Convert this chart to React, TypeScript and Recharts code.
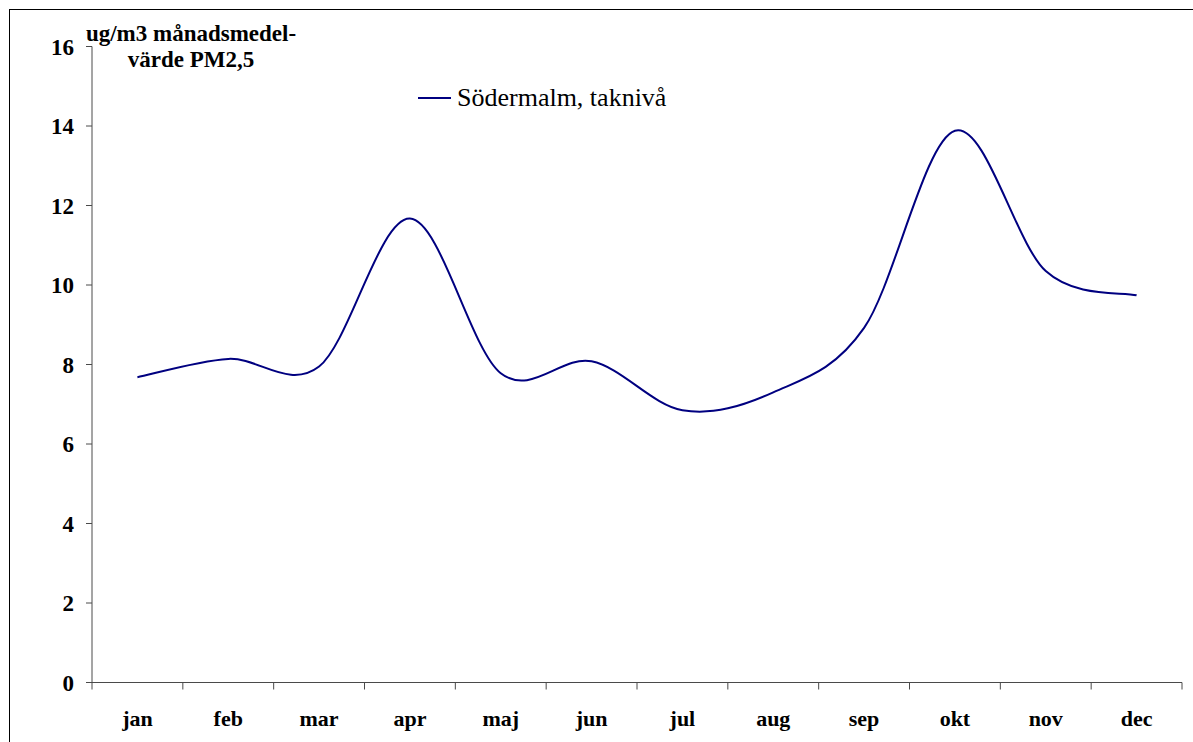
import React from "react";
import { LineChart, Line, XAxis, YAxis, Legend } from "recharts";

// Monthly mean PM2.5 (ug/m3), Södermalm roof level
const months = ["jan", "feb", "mar", "apr", "maj", "jun", "jul", "aug", "sep", "okt", "nov", "dec"];
const pm25 = [7.68, 8.14, 7.95, 11.67, 7.78, 8.08, 6.85, 7.3, 8.92, 13.88, 10.35, 9.74];
const yTicks = [0, 2, 4, 6, 8, 10, 12, 14, 16];
const seriesName = "Södermalm, taknivå";

const data = months.map((m, i) => ({ month: m, value: pm25[i] }));

const FONT = "'Liberation Serif', 'Times New Roman', serif";
const WIDTH = 1190;
const HEIGHT = 740;
const MARGIN = { top: 36.5, right: 18, bottom: 37.5, left: 0 };
const Y_AXIS_W = 82;
const BAND = (WIDTH - MARGIN.left - MARGIN.right - Y_AXIS_W) / months.length;
const AXIS_COLOR = "#4a4a4a";

// Smoothed line through every point (cubic Bezier, Catmull-Rom style)
const smoothCurve = (context: any) => {
  let pts: [number, number][] = [];
  return {
    areaStart() {},
    areaEnd() {},
    lineStart() {
      pts = [];
    },
    point(x: number, y: number) {
      pts.push([+x, +y]);
    },
    lineEnd() {
      if (!pts.length) return;
      context.moveTo(pts[0][0], pts[0][1]);
      for (let i = 0; i < pts.length - 1; i++) {
        const p0 = pts[Math.max(i - 1, 0)];
        const p1 = pts[i];
        const p2 = pts[i + 1];
        const p3 = pts[Math.min(i + 2, pts.length - 1)];
        context.bezierCurveTo(
          p1[0] + (p2[0] - p0[0]) / 6,
          p1[1] + (p2[1] - p0[1]) / 6,
          p2[0] - (p3[0] - p1[0]) / 6,
          p2[1] - (p3[1] - p1[1]) / 6,
          p2[0],
          p2[1]
        );
      }
    },
  };
};

// Month label centred in its band, tick marks on the band edges
const MonthTick = (props: any) => {
  const { x, y, payload, index } = props;
  const left = x - BAND / 2;
  return (
    <g>
      <line x1={left} y1={y} x2={left} y2={y + 7} stroke={AXIS_COLOR} />
      {index === months.length - 1 && (
        <line x1={left + BAND} y1={y} x2={left + BAND} y2={y + 7} stroke={AXIS_COLOR} />
      )}
      <text
        x={x}
        y={y + 43.5}
        textAnchor="middle"
        fontFamily={FONT}
        fontWeight="bold"
        fontSize={22}
        fill="#000"
      >
        {payload.value}
      </text>
    </g>
  );
};

const ValueTick = (props: any) => {
  const { x, y, payload } = props;
  return (
    <text
      x={x}
      y={y + 8}
      textAnchor="end"
      fontFamily={FONT}
      fontWeight="bold"
      fontSize={23}
      fill="#000"
    >
      {payload.value}
    </text>
  );
};

const LegendContent = (props: any) => {
  const entries = props.payload || [];
  return (
    <div style={{ display: "flex", alignItems: "center" }}>
      {entries.map((e: any) => (
        <div key={e.value} style={{ display: "flex", alignItems: "center" }}>
          <svg width={33} height={4} style={{ marginRight: 6 }}>
            <line x1={0} y1={2} x2={33} y2={2} stroke={e.color} strokeWidth={2} />
          </svg>
          <span style={{ fontFamily: FONT, fontSize: 26, color: "#000", whiteSpace: "nowrap" }}>
            {e.value}
          </span>
        </div>
      ))}
    </div>
  );
};

export default function App() {
  return (
    <div
      style={{
        position: "absolute",
        left: 9,
        top: 9,
        width: WIDTH,
        height: HEIGHT,
        border: "1px solid #000",
        background: "#fff",
      }}
    >
      <div
        style={{
          position: "absolute",
          left: 31,
          top: 11,
          width: 300,
          textAlign: "center",
          fontFamily: FONT,
          fontWeight: "bold",
          fontSize: 23,
          lineHeight: "26px",
          color: "#000",
          zIndex: 1,
        }}
      >
        ug/m3 månadsmedel-
        <br />
        värde PM2,5
      </div>
      <LineChart width={WIDTH} height={HEIGHT} data={data} margin={MARGIN}>
        <XAxis
          dataKey="month"
          scale="band"
          interval={0}
          stroke={AXIS_COLOR}
          tickLine={false}
          tickSize={0}
          tickMargin={0}
          height={30}
          tick={<MonthTick />}
        />
        <YAxis
          domain={[0, 16]}
          ticks={yTicks}
          interval={0}
          width={Y_AXIS_W}
          stroke={AXIS_COLOR}
          tickSize={6}
          tickMargin={12}
          tick={<ValueTick />}
        />
        <Legend
          layout="horizontal"
          align="center"
          verticalAlign="middle"
          content={<LegendContent />}
          wrapperStyle={{ left: 408, top: 73, width: "auto" }}
        />
        <Line
          name={seriesName}
          dataKey="value"
          type={smoothCurve as any}
          stroke="#000080"
          strokeWidth={2}
          dot={false}
          isAnimationActive={false}
        />
      </LineChart>
    </div>
  );
}
